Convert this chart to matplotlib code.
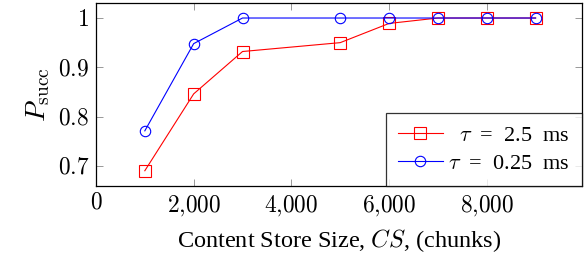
import matplotlib
matplotlib.use("Agg")
import matplotlib.pyplot as plt

plt.rcParams['mathtext.fontset'] = 'cm'
plt.rcParams['font.family'] = ['Liberation Serif', 'DejaVu Serif']

cs_red = [1000, 2000, 3000, 5000, 6000, 7000, 8000, 9000]
p_red = [0.690, 0.846, 0.932, 0.950, 0.989, 1.0, 1.0, 1.0]
cs_blue = [1000, 2000, 3000, 5000, 6000, 7000, 8000, 9000]
p_blue = [0.771, 0.948, 1.0, 1.0, 1.0, 1.0, 1.0, 1.0]
label_red = '  ' + r'$\tau$  =  2.5  ms'
label_blue = r'$\tau$  =  0.25  ms'
xticks = [0, 2000, 4000, 6000, 8000]
xticklabels = ['$0$', '$2{,}000$', '$4{,}000$', '$6{,}000$', '$8{,}000$']
yticks = [0.7, 0.8, 0.9, 1.0]
yticklabels = ['$0.7$', '$0.8$', '$0.9$', '$1$']

fig = plt.figure(figsize=(5.87, 2.60), dpi=100)
ax = fig.add_axes([0.1635, 0.2846, 0.9915 - 0.1635, 0.9885 - 0.2846])

ax.plot(cs_red, p_red, color='red', lw=0.8, marker='s', ms=8, mfc='none',
        mec='red', mew=0.8, label=label_red)
ax.plot(cs_blue, p_blue, color='blue', lw=0.8, marker='o', ms=7.5, mfc='none',
        mec='blue', mew=0.8, label=label_blue)

ax.set_xlim(0, 9950)
ax.set_ylim(0.659, 1.0305)
ax.set_xticks(xticks)
ax.set_xticklabels(xticklabels)
ax.set_yticks(yticks)
ax.set_yticklabels(yticklabels)
ax.tick_params(direction='in', top=True, right=True, length=5, width=0.6,
               color='#888888', labelsize=16.8, pad=5)
for s in ax.spines.values():
    s.set_linewidth(0.9)

ax.set_xlabel('Content Store Size, $CS$, (chunks)', fontsize=17.5, labelpad=7)
ax.set_ylabel(r'$P_{\rm succ}$', fontsize=20, labelpad=4)

leg = ax.legend(loc='lower right', fontsize=16, frameon=True, fancybox=False,
                edgecolor='black', borderaxespad=0, handlelength=2.0,
                handletextpad=0.25, borderpad=0.55, labelspacing=0.34)
leg.get_frame().set_linewidth(0.9)

fig.savefig('out.png', dpi=100)
